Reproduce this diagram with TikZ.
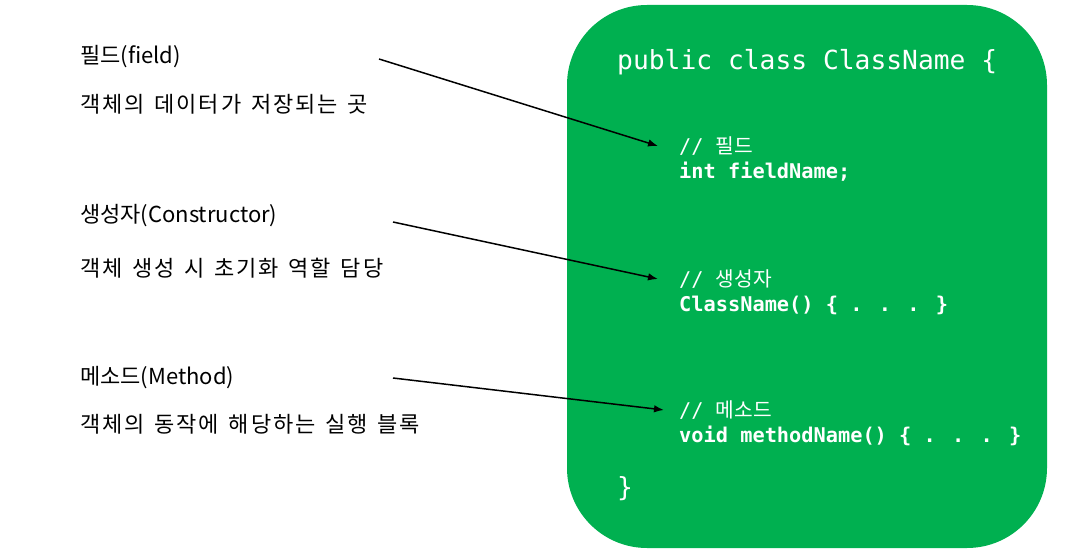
\documentclass[tikz,border=0pt]{standalone}
\usepackage{fontspec}
\usetikzlibrary{arrows.meta}
\newfontfamily\krfont{Noto Sans CJK KR}[WordSpace=1.4]
\newfontfamily\krwide{Noto Sans CJK KR}[WordSpace=1.4, LetterSpace=9]
\newfontfamily\codefont{DejaVu Sans Mono}
\definecolor{classgreen}{HTML}{00B050}
\tikzset{
  title/.style={anchor=west, inner sep=0pt, font=\krfont\fontsize{22}{26}\selectfont},
  desc/.style={anchor=west, inner sep=0pt, font=\krwide\fontsize{22}{26}\selectfont},
  headline/.style={anchor=west, inner sep=0pt, text=white, font=\codefont\fontsize{26.3}{30}\selectfont},
  codeline/.style={anchor=west, inner sep=0pt, text=white, font=\codefont\bfseries\fontsize{20.3}{24}\selectfont},
  cmtline/.style={anchor=west, inner sep=0pt, text=white, font=\codefont\fontsize{20.3}{24}\selectfont},
  pointer/.style={-{Latex[length=10pt,width=7.5pt]}, line width=1.5pt}
}
\begin{document}
\begin{tikzpicture}[x=1pt, y=-1pt]
        \useasboundingbox (0, 0) rectangle (1079, 553);
        \fill[classgreen, rounded corners=80pt] (567, 5) rectangle (1047, 548);

        % left side
        \node[title] (field) at (80, 57) {필드(field)};
        \node[desc] (fielddesc) at (80, 104) {객체의 데이터가 저장되는 곳};
        \node[title] (ctor) at (80, 216) {생성자(Constructor)};
        \node[desc] (ctordesc) at (80, 268) {객체 생성 시 초기화 역할 담당};
        \node[title] (method) at (80, 378) {메소드(Method)};
        \node[desc] (methoddesc) at (80, 424) {객체의 동작에 해당하는 실행 블록};

        % class body
        \node[headline] (header) at (617, 62) {public class ClassName \{};
        \node[cmtline] (fieldcmt) at (679, 146) {// {\krfont 필드}};
        \node[codeline] (fieldcode) at (679, 172) {int fieldName;};
        \node[cmtline] (ctorcmt) at (679, 279) {// {\krfont 생성자}};
        \node[codeline] (ctorcode) at (679, 305) {ClassName() \{ . . . \}};
        \node[cmtline] (methodcmt) at (679, 410) {// {\krfont 메소드}};
        \node[codeline] (methodcode) at (679, 436) {void methodName() \{ . . . \}};
        \node[headline] (closing) at (617, 489) {\}};

        \coordinate (fieldstart) at (379, 59);
        \coordinate (ctorstart) at (393, 222);
        \coordinate (methodstart) at (393, 378);
        \draw[pointer] (fieldstart) -- ([xshift=-21pt]fieldcmt.west);
        \draw[pointer] (ctorstart) -- ([xshift=-21pt]ctorcmt.west);
        \draw[pointer] (methodstart) -- ([xshift=-15pt]methodcmt.west);
\end{tikzpicture}
\end{document}
